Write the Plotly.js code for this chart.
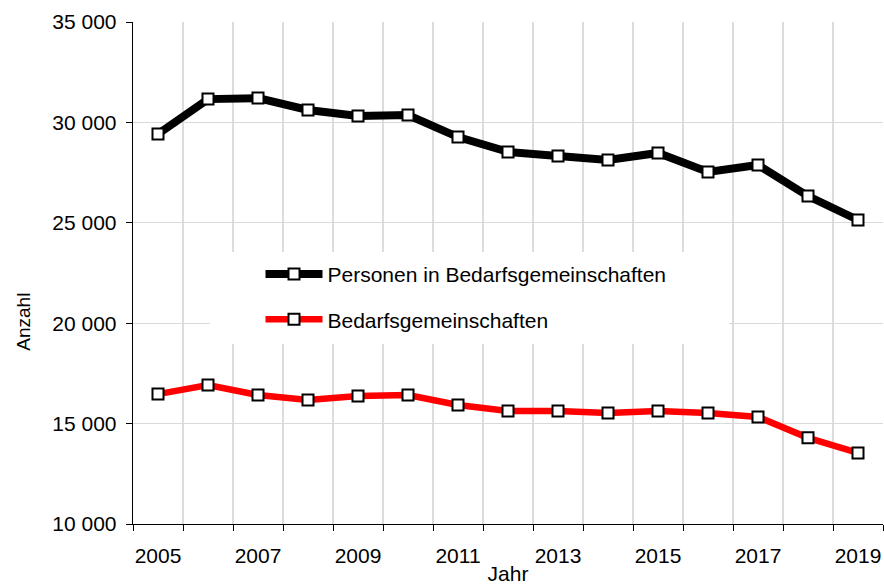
<!DOCTYPE html>
<html>
<head>
<meta charset="utf-8">
<script src="https://cdn.plot.ly/plotly-3.0.1.min.js"></script>
<style>html,body{margin:0;padding:0;background:#fff;}#chart{width:884px;height:585px;}</style>
</head>
<body>
<div id="chart"></div>
<script>
const years = [2005,2006,2007,2008,2009,2010,2011,2012,2013,2014,2015,2016,2017,2018,2019];
const personen = [29420,31160,31210,30620,30320,30370,29270,28530,28330,28130,28480,27530,27880,26330,25140];
const bedarfsgemeinschaften = [16470,16920,16420,16180,16380,16420,15930,15630,15630,15530,15630,15530,15330,14290,13540];
const xTickVals = [2005,2007,2009,2011,2013,2015,2017,2019];
const xTickLabels = ['2005','2007','2009','2011','2013','2015','2017','2019'];
const seriesNames = ['Personen in Bedarfsgemeinschaften','Bedarfsgemeinschaften'];

const FONT = 'Liberation Sans, Arial, sans-serif';
const markerStyle = {symbol:'square', size:11, color:'#ffffff', line:{color:'#000000', width:2}};

const traces = [
  {x:years, y:personen, name:seriesNames[0], type:'scatter', mode:'lines+markers',
   line:{color:'#000000', width:8}, marker:markerStyle, legendgroup:'a'},
  {x:years, y:bedarfsgemeinschaften, name:seriesNames[1], type:'scatter', mode:'lines+markers',
   line:{color:'#ff0000', width:6.5}, marker:markerStyle, legendgroup:'b'}
];

const layout = {
  width:884, height:585,
  margin:{l:133, r:1, t:22, b:61, pad:0},
  paper_bgcolor:'#ffffff', plot_bgcolor:'#ffffff',
  separators:', ',
  font:{family:FONT, size:21, color:'#000000'},
  showlegend:true,
  legend:{x:0.17, xanchor:'left', y:0.538, yanchor:'top', bgcolor:'rgba(0,0,0,0)',
          borderwidth:0, tracegroupgap:15, itemwidth:57, font:{family:FONT, size:21, color:'#000000'}},
  xaxis:{range:[2004.5,2019.5], tickvals:xTickVals, ticktext:xTickLabels,
         ticks:'', showgrid:false, zeroline:false, showline:true, linecolor:'#000000', linewidth:1.3,
         ticklabelstandoff:12,
         minor:{tick0:2004.5, dtick:1, ticks:'outside', ticklen:6, tickcolor:'#000000', tickwidth:1,
                showgrid:true, gridcolor:'#dcdcdc', gridwidth:1.3},
         tickfont:{family:FONT, size:21, color:'#000000'},
         title:{text:'Jahr', font:{family:FONT, size:21, color:'#000000'}, standoff:7}},
  yaxis:{range:[10000,35000], dtick:5000, tick0:10000, tickformat:',.0f',
         ticks:'outside', ticklen:6, tickcolor:'#000000', tickwidth:1,
         showgrid:true, gridcolor:'#d9d9d9', gridwidth:1.3, zeroline:false,
         showline:true, linecolor:'#000000', linewidth:1.3, ticklabelstandoff:5,
         tickfont:{family:FONT, size:21, color:'#000000'}},
  shapes:[{type:'rect', xref:'paper', yref:'paper', x0:0.1027, x1:0.7947, y0:0.3586, y1:0.5418,
           fillcolor:'#ffffff', line:{width:0}, layer:'above'}],
  annotations:[{text:'Anzahl', xref:'paper', yref:'paper', x:-0.146, y:0.402, xanchor:'center', yanchor:'middle',
                textangle:-90, showarrow:false, font:{family:FONT, size:19, color:'#000000'}}]
};

Plotly.newPlot('chart', traces, layout, {displayModeBar:false, staticPlot:true});
</script>
</body>
</html>
